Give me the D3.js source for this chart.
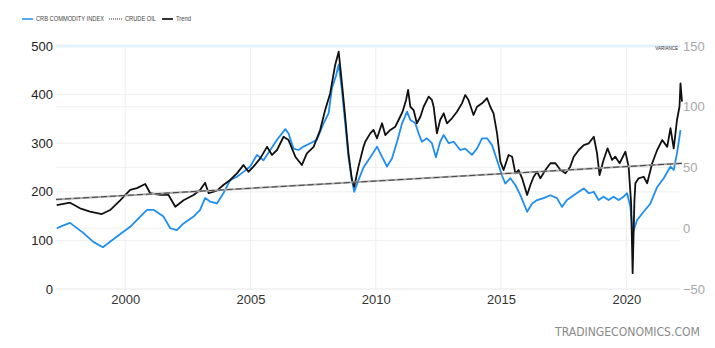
<!DOCTYPE html>
<html>
<head>
<meta charset="utf-8">
<script src="https://cdn.jsdelivr.net/npm/d3@7"></script>
<style>
  html, body { margin: 0; padding: 0; background: #fff; }
  svg { display: block; }
</style>
</head>
<body>
<svg id="chart" width="715" height="348"></svg>
<script>
// ---- Data (decimal year, value) ----
const crbYears = [1997.27,1997.49,1997.80,1998.34,1998.73,1999.11,1999.67,2000.20,2000.60,2000.87,2001.13,2001.53,2001.80,2002.06,2002.33,2002.73,2002.99,2003.19,2003.39,2003.66,2003.92,2004.19,2004.46,2004.72,2004.99,2005.26,2005.52,2005.79,2006.06,2006.39,2006.52,2006.72,2006.92,2007.12,2007.39,2007.65,2007.92,2008.12,2008.25,2008.42,2008.52,2008.65,2008.78,2008.91,2009.05,2009.14,2009.31,2009.51,2009.85,2010.05,2010.25,2010.45,2010.65,2010.85,2011.05,2011.25,2011.38,2011.58,2011.71,2011.84,2012.04,2012.24,2012.40,2012.57,2012.71,2012.91,2013.11,2013.37,2013.57,2013.84,2014.04,2014.24,2014.44,2014.64,2014.84,2015.04,2015.17,2015.37,2015.57,2015.77,2016.04,2016.24,2016.44,2016.70,2016.97,2017.23,2017.43,2017.63,2017.90,2018.10,2018.30,2018.50,2018.70,2018.89,2019.09,2019.29,2019.49,2019.69,2019.89,2020.03,2020.16,2020.25,2020.43,2020.69,2020.96,2021.23,2021.49,2021.76,2021.89,2022.02,2022.16];
const crbValues = [125,130,136,115,97,86,108,128,149,163,163,149,125,121,135,149,163,187,180,176,197,224,231,241,252,276,265,286,307,329,320,289,286,293,300,307,341,362,413,440,462,409,341,272,224,200,224,250,276,293,272,252,269,303,341,365,348,341,320,303,310,300,271,303,317,300,303,286,289,276,289,310,310,296,265,233,217,228,214,193,159,176,183,187,193,187,169,183,193,200,207,197,200,183,190,183,190,183,190,197,169,115,142,159,176,210,228,252,245,279,327];

const oilYears = [1997.27,1997.80,1998.20,1998.60,1999.07,1999.40,1999.80,2000.20,2000.47,2000.80,2001.00,2001.40,2001.73,2002.00,2002.33,2002.73,2002.99,2003.19,2003.33,2003.66,2003.92,2004.19,2004.46,2004.72,2004.92,2005.12,2005.39,2005.66,2005.86,2006.06,2006.32,2006.52,2006.79,2007.05,2007.25,2007.52,2007.78,2007.98,2008.18,2008.38,2008.52,2008.65,2008.78,2008.91,2009.05,2009.14,2009.31,2009.51,2009.58,2009.78,2009.91,2010.05,2010.25,2010.38,2010.58,2010.78,2010.91,2011.07,2011.21,2011.29,2011.38,2011.51,2011.64,2011.78,2011.91,2012.11,2012.24,2012.31,2012.44,2012.57,2012.71,2012.84,2013.04,2013.24,2013.44,2013.57,2013.70,2013.90,2014.04,2014.24,2014.44,2014.57,2014.70,2014.84,2014.97,2015.10,2015.30,2015.44,2015.57,2015.70,2015.84,2016.04,2016.17,2016.30,2016.44,2016.57,2016.77,2016.97,2017.17,2017.37,2017.57,2017.76,2017.90,2018.10,2018.30,2018.50,2018.70,2018.83,2018.93,2019.09,2019.25,2019.43,2019.56,2019.73,2019.96,2020.09,2020.19,2020.25,2020.32,2020.36,2020.49,2020.69,2020.83,2021.03,2021.23,2021.43,2021.63,2021.76,2021.89,2022.02,2022.12,2022.16,2022.22];
const oilValues = [19.1,21,16.4,13.6,11.7,15,23,31.5,33,36.4,28.8,27.4,27.4,17.7,23,27.4,31.5,37.5,28.8,31,35.6,39.7,45.2,52,46.5,50.7,57.5,67,60.3,64.4,75.3,72.6,58.9,52,61.7,67,80.9,97.3,111,134.4,145.3,119.3,91.8,61.7,39.7,34.2,50.7,67,71.2,78.1,80.9,74,86.4,76.7,80.9,83.6,89.1,95.9,105.6,113.8,100,97.3,86.4,91.8,100,108.3,105.6,100,78.1,89.1,94.6,86.4,90.5,95.9,102.8,109.7,105.6,93.2,100,102.8,107,100,94.6,78.1,55,47.9,60.3,58.9,45.2,47.9,41.1,27.4,35.6,42.4,46.5,41.1,47.9,53.5,53.5,47.9,45.2,50.7,58.9,64.4,68.5,69.9,75.3,61.7,43.8,56.2,65.8,56.2,58.9,53.5,63,50.7,20.5,-37,22,37,41.1,42.4,37,53.5,64.4,72.6,67,82.3,65.8,89.1,100,119.3,104.2];

const trendYears = [1997.24, 2022.22];
const trendValues = [23.7, 53.4];

const xTickYears = [2000, 2005, 2010, 2015, 2020];
const leftTicks = [0, 100, 200, 300, 400, 500];
const rightTicks = [-50, 0, 50, 100, 150];
const legendLabels = ["CRB COMMODITY INDEX", "CRUDE OIL", "Trend"];

// ---- Layout ----
const svg = d3.select("#chart");
const L = 56, R = 682, T = 46, B = 289;
const x = d3.scaleLinear().domain([1997.24, 2022.22]).range([L, R]);
const yL = d3.scaleLinear().domain([0, 500]).range([B, T]);
const yR = d3.scaleLinear().domain([-50, 150]).range([B, T]);

const font = "'Liberation Sans', Arial, sans-serif";

// Gridlines
const grid = svg.append("g");
grid.selectAll(".hl").data(leftTicks).join("line")
  .attr("x1", L).attr("x2", 680).attr("y1", d => yL(d)).attr("y2", d => yL(d))
  .attr("stroke", "#efefef").attr("stroke-width", 1);
grid.selectAll(".hr").data(rightTicks).join("line")
  .attr("x1", L).attr("x2", 680).attr("y1", d => yR(d)).attr("y2", d => yR(d))
  .attr("stroke", "#efefef").attr("stroke-width", 1);
grid.selectAll(".v").data(xTickYears).join("line")
  .attr("x1", d => x(d)).attr("x2", d => x(d)).attr("y1", T).attr("y2", B)
  .attr("stroke", "#efefef").attr("stroke-width", 1);
// top band
svg.append("line").attr("x1", L).attr("x2", 680).attr("y1", T).attr("y2", T)
  .attr("stroke", "#e4f1fb").attr("stroke-width", 3);

// Axes labels
const leftAxis = d3.axisLeft(yL).tickValues(leftTicks).tickSize(0).tickPadding(3);
const gl = svg.append("g").attr("transform", `translate(${L},0)`).call(leftAxis);
gl.select(".domain").remove();
gl.selectAll("text").attr("font-family", font).attr("font-size", 13).attr("fill", "#222");

const rightAxis = d3.axisRight(yR).tickValues(rightTicks).tickSize(0).tickPadding(3);
const gr = svg.append("g").attr("transform", `translate(680,0)`).call(rightAxis);
gr.select(".domain").remove();
gr.selectAll("text").attr("font-family", font).attr("font-size", 13).attr("fill", "#a8a8a8");

const bottomAxis = d3.axisBottom(x).tickValues(xTickYears).tickFormat(d3.format("d")).tickSize(0).tickPadding(6);
const gb = svg.append("g").attr("transform", `translate(0,${B})`).call(bottomAxis);
gb.select(".domain").remove();
gb.selectAll("text").attr("font-family", font).attr("font-size", 13).attr("fill", "#333");

// Lines
const crbData = crbYears.map((d, i) => [d, crbValues[i]]);
const oilData = oilYears.map((d, i) => [d, oilValues[i]]);
const trendData = trendYears.map((d, i) => [d, trendValues[i]]);

svg.append("path").datum(crbData)
  .attr("d", d3.line().x(d => x(d[0])).y(d => yL(d[1])))
  .attr("fill", "none").attr("stroke", "#1f8ef1").attr("stroke-width", 1.8)
  .attr("stroke-linejoin", "round");

svg.append("path").datum(oilData)
  .attr("d", d3.line().x(d => x(d[0])).y(d => yR(d[1])))
  .attr("fill", "none").attr("stroke", "#111").attr("stroke-width", 1.8)
  .attr("stroke-linejoin", "round");

const trendLine = d3.line().x(d => x(d[0])).y(d => yR(d[1]));
svg.append("path").datum(trendData).attr("d", trendLine)
  .attr("fill", "none").attr("stroke", "#aaa").attr("stroke-width", 2);
svg.append("path").datum(trendData).attr("d", trendLine)
  .attr("fill", "none").attr("stroke", "#444").attr("stroke-width", 1)
  .attr("stroke-dasharray", "6,3");

// VARIANCE label
svg.append("text").attr("x", 678).attr("y", 50).attr("text-anchor", "end")
  .attr("font-family", font).attr("font-size", 4.5).attr("fill", "#333").text("VARIANCE");

// Legend
const lg = svg.append("g");
lg.append("line").attr("x1", 22).attr("x2", 33).attr("y1", 19).attr("y2", 19)
  .attr("stroke", "#1f8ef1").attr("stroke-width", 1.5);
lg.append("text").attr("x", 36).attr("y", 21).attr("font-family", font).attr("font-size", 6.5)
  .attr("fill", "#444").attr("textLength", 68).attr("lengthAdjust", "spacingAndGlyphs").text(legendLabels[0]);
lg.append("line").attr("x1", 109).attr("x2", 123).attr("y1", 19).attr("y2", 19)
  .attr("stroke", "#333").attr("stroke-width", 1.2).attr("stroke-dasharray", "1,1");
lg.append("text").attr("x", 125).attr("y", 21).attr("font-family", font).attr("font-size", 6.5)
  .attr("fill", "#444").attr("textLength", 31).attr("lengthAdjust", "spacingAndGlyphs").text(legendLabels[1]);
lg.append("line").attr("x1", 162).attr("x2", 173).attr("y1", 19).attr("y2", 19)
  .attr("stroke", "#333").attr("stroke-width", 2);
lg.append("text").attr("x", 176).attr("y", 21).attr("font-family", font).attr("font-size", 6.5)
  .attr("fill", "#444").attr("textLength", 15).attr("lengthAdjust", "spacingAndGlyphs").text(legendLabels[2]);

// Watermark
svg.append("text").attr("x", 700).attr("y", 336).attr("text-anchor", "end")
  .attr("font-family", "'DejaVu Sans Condensed', 'DejaVu Sans', sans-serif").attr("font-size", 12.5)
  .attr("fill", "#8a8a8a").attr("textLength", 145).attr("lengthAdjust", "spacingAndGlyphs")
  .text("TRADINGECONOMICS.COM");
</script>
</body>
</html>
